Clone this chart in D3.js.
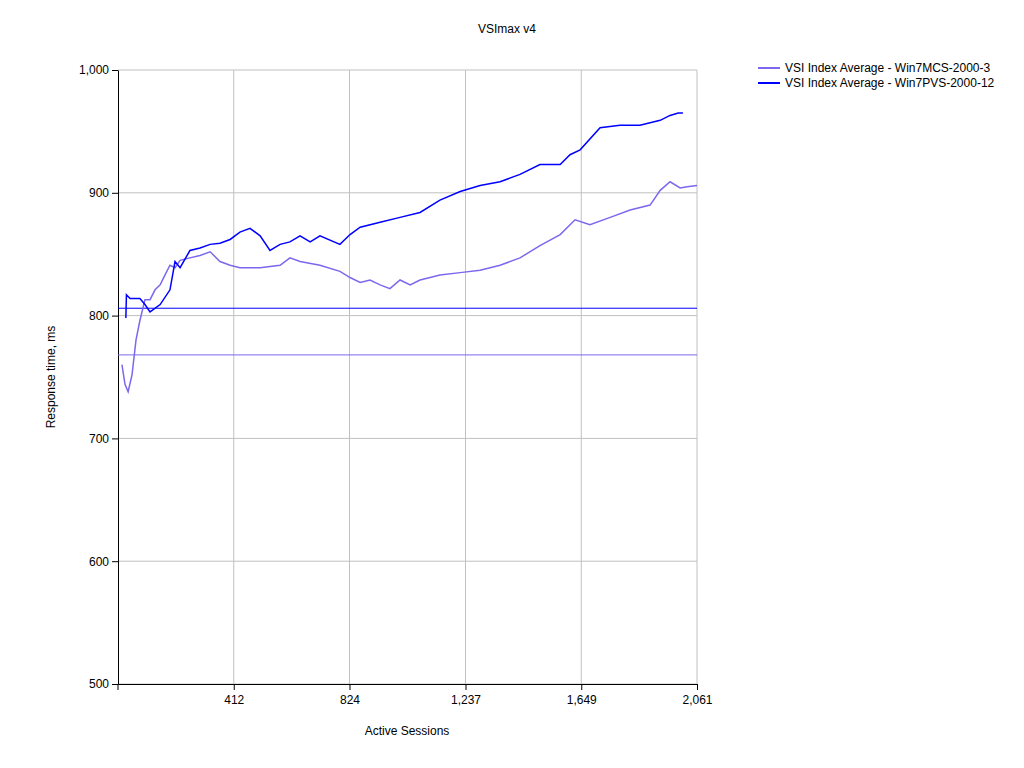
<!DOCTYPE html>
<html>
<head>
<meta charset="utf-8">
<script src="https://cdn.jsdelivr.net/npm/d3@7"></script>
<style>
  body { margin: 0; background: #fff; }
  text { font-family: "Liberation Sans", Arial, sans-serif; font-size: 12px; fill: #000; }
</style>
</head>
<body>
<svg width="1024" height="768"></svg>
<script>
const xTicks = [412, 824, 1237, 1649, 2061];
const yTicks = [500, 600, 700, 800, 900, 1000];

const mcsSessions = [14, 25, 36, 50, 64, 78, 96, 114, 132, 150, 167, 185, 203, 221, 256, 292, 328, 363, 399, 434, 506, 577, 612, 648, 719, 790, 826, 862, 897, 933, 968, 1004, 1040, 1075, 1111, 1146, 1218, 1289, 1360, 1431, 1502, 1574, 1627, 1680, 1752, 1823, 1894, 1930, 1965, 2001, 2026, 2061];
const mcsValues = [760, 744, 738, 752, 780, 796, 813, 813, 821, 825, 833, 841, 839, 845, 847, 849, 852, 844, 841, 839, 839, 841, 847, 844, 841, 836, 831, 827, 829, 825, 822, 829, 825, 829, 831, 833, 835, 837, 841, 847, 857, 866, 878, 874, 880, 886, 890, 902, 909, 904, 905, 906];

const pvsSessions = [28, 30, 43, 78, 96, 114, 150, 185, 203, 221, 256, 292, 328, 363, 399, 434, 470, 506, 541, 577, 612, 648, 684, 719, 790, 826, 862, 933, 1004, 1075, 1146, 1218, 1289, 1360, 1431, 1502, 1574, 1609, 1645, 1716, 1787, 1858, 1930, 1965, 1994, 2011];
const pvsValues = [798, 817, 814, 814, 809, 803, 809, 821, 844, 839, 853, 855, 858, 859, 862, 868, 871, 865, 853, 858, 860, 865, 860, 865, 858, 866, 872, 876, 880, 884, 894, 901, 906, 909, 915, 923, 923, 931, 935, 953, 955, 955, 959, 963, 965, 965];

const mcsThreshold = 768;
const pvsThreshold = 806;

const svg = d3.select("svg");
const mLeft = 118, mRight = 697, mTop = 70, mBottom = 684;

const x = d3.scaleLinear().domain([0, 2061]).range([mLeft, mRight]);
const y = d3.scaleLinear().domain([500, 1000]).range([mBottom, mTop]);

// grid
svg.selectAll(".vgrid").data(xTicks).enter().append("line")
  .attr("x1", d => x(d)).attr("x2", d => x(d))
  .attr("y1", mTop).attr("y2", mBottom)
  .attr("stroke", "#c0c0c0");
svg.selectAll(".hgrid").data(yTicks).enter().append("line")
  .attr("x1", mLeft).attr("x2", mRight)
  .attr("y1", d => y(d)).attr("y2", d => y(d))
  .attr("stroke", "#c0c0c0");

// axes
svg.append("g").attr("transform", `translate(0,${mBottom})`)
  .call(d3.axisBottom(x).tickValues(xTicks).tickSize(6).tickSizeOuter(0))
  .call(g => g.selectAll("text").attr("font-size", 12).attr("dy", "0.9em"));
svg.append("g").attr("transform", `translate(${mLeft},0)`)
  .call(d3.axisLeft(y).tickValues(yTicks).tickSize(6).tickSizeOuter(0))
  .call(g => g.selectAll("text").attr("font-size", 12));
svg.selectAll(".domain").attr("stroke", "#000");
svg.append("line").attr("x1", mLeft).attr("x2", mLeft).attr("y1", mBottom).attr("y2", mBottom + 6).attr("stroke", "#000");

// thresholds
svg.append("line").attr("x1", mLeft).attr("x2", mRight)
  .attr("y1", y(mcsThreshold)).attr("y2", y(mcsThreshold))
  .attr("stroke", "#7b68ee");
svg.append("line").attr("x1", mLeft).attr("x2", mRight)
  .attr("y1", y(pvsThreshold)).attr("y2", y(pvsThreshold))
  .attr("stroke", "#0000ff");

const line = d3.line().x(d => x(d[0])).y(d => y(d[1]));
svg.append("path")
  .attr("d", line(d3.zip(mcsSessions, mcsValues)))
  .attr("fill", "none").attr("stroke", "#7b68ee").attr("stroke-width", 1.5);
svg.append("path")
  .attr("d", line(d3.zip(pvsSessions, pvsValues)))
  .attr("fill", "none").attr("stroke", "#0000ff").attr("stroke-width", 1.5);

// labels
svg.append("text").attr("x", 507).attr("y", 33).attr("text-anchor", "middle").attr("font-size", 11).text("VSImax v4");
svg.append("text").attr("x", 407).attr("y", 735).attr("text-anchor", "middle").attr("font-size", 11).text("Active Sessions");
svg.append("text").attr("transform", "translate(55,377) rotate(-90)").attr("text-anchor", "middle").attr("font-size", 11).text("Response time, ms");

// legend
const legend = [["VSI Index Average - Win7MCS-2000-3", "#7b68ee"], ["VSI Index Average - Win7PVS-2000-12", "#0000ff"]];
legend.forEach((l, i) => {
  svg.append("line").attr("x1", 758).attr("x2", 780).attr("y1", 68 + i * 15).attr("y2", 68 + i * 15)
    .attr("stroke", l[1]).attr("stroke-width", 2);
  svg.append("text").attr("x", 785).attr("y", 72 + i * 15).attr("font-size", 11).text(l[0]);
});
</script>
</body>
</html>
